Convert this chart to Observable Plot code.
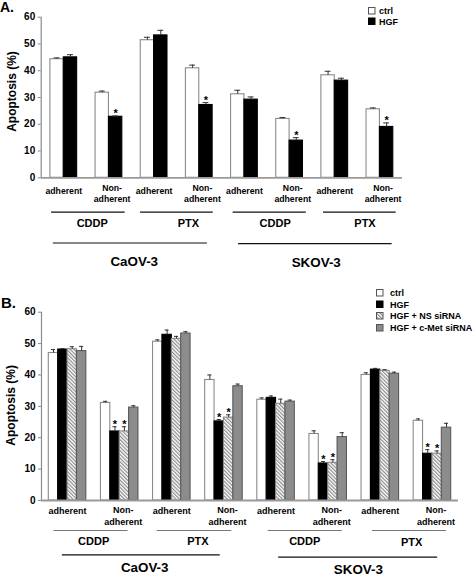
<!DOCTYPE html>
<html><head><meta charset="utf-8">
<script src="https://cdn.jsdelivr.net/npm/d3@7"></script>
<script src="https://cdn.jsdelivr.net/npm/@observablehq/plot@0.6"></script>
<style>
body{margin:0;background:#fff;}
#root{position:relative;width:473px;height:576px;overflow:hidden;font-family:"Liberation Sans",Arial,sans-serif;}
#root svg{position:absolute;left:0;}
</style></head><body>
<svg width="0" height="0" style="position:absolute">
  <defs>
    <pattern id="hatch" patternUnits="userSpaceOnUse" width="2.6" height="2.6" patternTransform="rotate(-45)">
      <rect width="2.6" height="2.6" fill="#fff"></rect>
      <line x1="0.6" y1="0" x2="0.6" y2="2.6" stroke="#8a8a8a" stroke-width="1.2"></line>
    </pattern>
  </defs>
</svg>
<div id="root"></div>
<script>
// ---- data ----
const stateLabels = ["adherent","Non-\nadherent","adherent","Non-\nadherent","adherent","Non-\nadherent","adherent","Non-\nadherent"];
const drugLabels = ["CDDP","PTX","CDDP","PTX"];
const cellLabels = ["CaOV-3","SKOV-3"];
const yTicks = [0,10,20,30,40,50,60];

const seriesA = ["ctrl","HGF"];
const ctrlA    = [44.3, 31.8, 51.4, 40.9, 31.2, 22.0, 38.3, 25.6];
const ctrlAErr = [0.5, 0.6, 1.1, 1.2, 1.5, 0.5, 1.5, 0.5];
const hgfA     = [45.0, 22.8, 53.2, 27.2, 29.2, 13.9, 36.3, 19.0];
const hgfAErr  = [1.0, 0.3, 1.9, 0.9, 1.0, 1.1, 0.9, 1.5];

const seriesB = ["ctrl","HGF","HGF + NS siRNA","HGF + c-Met siRNA"];
const ctrlB    = [47.0, 31.1, 50.6, 38.4, 32.1, 21.2, 40.0, 25.4];
const ctrlBErr = [1.1, 0.5, 0.6, 1.6, 0.6, 1.0, 0.7, 0.6];
const hgfB     = [48.1, 22.0, 52.8, 25.2, 32.7, 11.8, 41.7, 14.9];
const hgfBErr  = [0.3, 1.5, 1.5, 0.6, 0.6, 0.6, 0.4, 1.3];
const nsB      = [48.2, 22.0, 51.5, 26.4, 30.8, 12.0, 41.3, 14.9];
const nsBErr   = [0.8, 1.5, 0.8, 0.9, 1.5, 1.0, 0.4, 0.9];
const cmetB    = [47.6, 29.6, 53.2, 36.4, 31.5, 20.2, 40.4, 23.2];
const cmetBErr = [1.5, 0.6, 0.6, 0.7, 0.5, 1.4, 0.5, 1.4];

// significance (*) marks: which groups and which series
const sigGroups = [false, true, false, true, false, true, false, true];
const sigSeriesA = [false, true];
const sigSeriesB = [false, true, true, false];

// ---- styles ----
const FONT = '"Liberation Sans", Arial, sans-serif';
const fills   = ["#ffffff", "#000000", "url(#hatch)", "#8c8c8c"];
const strokes = ["#8a8a8a", "#000000", "#8a8a8a", "#5a5a5a"];

function panel(cfg) {
  const n = cfg.series.length;
  const w = cfg.barW;
  const off = 0.5 - n * w / 2;
  const rows = [];
  cfg.series.forEach((s, k) => cfg.values[k].forEach((v, g) => rows.push({
    g, k, s, v, e: cfg.errors[k][g],
    sig: sigGroups[g] && cfg.sigSeries[k],
    x1: g + off + k * w, x2: g + off + (k + 1) * w, c: g + off + (k + 0.5) * w
  })));
  const cap = w * 0.22;
  const marks = [];
  cfg.series.forEach((s, k) => {
    marks.push(Plot.rect(rows.filter(d => d.k === k), {
      x1: "x1", x2: "x2", y1: 0, y2: "v",
      fill: fills[k], stroke: strokes[k], strokeWidth: 1.1
    }));
  });
  marks.push(Plot.ruleX(rows, {x: "c", y1: "v", y2: d => d.v + d.e, stroke: "#333", strokeWidth: 1}));
  marks.push(Plot.ruleY(rows, {y: d => d.v + d.e, x1: d => d.c - cap, x2: d => d.c + cap, stroke: "#333", strokeWidth: 1}));
  marks.push(Plot.text(rows.filter(d => d.sig), {
    x: "c", y: d => d.v + d.e, text: () => "*", lineAnchor: "bottom", dy: cfg.starDy,
    fontWeight: "bold", fontSize: 11, fill: "#000"
  }));
  // axes
  marks.push(Plot.ruleX([0], {stroke: "#8a8a8a", strokeWidth: 1.2}));
  marks.push(Plot.ruleY([0], {stroke: "#9a9a9a", strokeWidth: 1.8}));
  marks.push(Plot.axisY(yTicks, {tickSize: 3, tickPadding: 3, stroke: "#8a8a8a", fill: "#000",
    fontWeight: "bold", fontSize: 10, label: null}));
  marks.push(Plot.text(["Apoptosis (%)"], {frameAnchor: "left", textAnchor: "middle", lineAnchor: "middle",
    dx: cfg.ylabDx, dy: cfg.ylabDy, rotate: -90,
    fontWeight: "bold", fontSize: 12, fill: "#000"}));
  // state labels
  const st = stateLabels.map((t, g) => ({t, g}));
  marks.push(Plot.text(st.filter(d => d.g % 2 === 0), {x: d => d.g + 0.5, y: 0, text: "t", dy: cfg.stateDy[0],
    fontWeight: "bold", fontSize: cfg.stateFont, fill: "#000"}));
  marks.push(Plot.text(st.filter(d => d.g % 2 === 1), {x: d => d.g + 0.57, y: 0, text: "t", dy: cfg.stateDy[1],
    fontWeight: "bold", fontSize: cfg.stateFont, fill: "#000", lineHeight: 1.3}));
  // drug brackets
  drugLabels.forEach((t, i) => {
    const [a, b] = cfg.drugLines[i];
    marks.push(Plot.ruleY([0], {x1: a, x2: b, dy: cfg.drugLineDy, stroke: cfg.drugStroke, strokeWidth: 1.2}));
    marks.push(Plot.text([t], {x: cfg.drugText[i], y: 0, dy: cfg.drugDy[i], fontWeight: "bold", fontSize: 11, fill: "#000"}));
  });
  cellLabels.forEach((t, i) => {
    const [a, b] = cfg.cellLines[i];
    marks.push(Plot.ruleY([0], {x1: a, x2: b, dy: cfg.cellLineDy[i], stroke: "#111", strokeWidth: 1.2}));
    marks.push(Plot.text([t], {x: cfg.cellText[i], y: 0, dy: cfg.cellDy[i], fontWeight: "bold", fontSize: 13.4, fill: "#000"}));
  });
  return Plot.plot({
    width: 473, height: cfg.height,
    marginTop: cfg.mt, marginBottom: cfg.mb, marginLeft: cfg.ml, marginRight: cfg.mr,
    x: {domain: [0, 8], axis: null},
    y: {domain: [0, 60], axis: null},
    style: {fontFamily: FONT, overflow: "visible", background: "transparent"},
    marks
  });
}

const root = document.getElementById("root");

const svgA = panel({
  series: seriesA, values: [ctrlA, hgfA], errors: [ctrlAErr, hgfAErr], sigSeries: sigSeriesA,
  barW: 0.296, height: 275, mt: 16.7, mb: 97.7, ml: 40.7, mr: 71,
  starDy: 1, ylabDx: -29, ylabDy: -6,
  stateFont: 8.7, stateDy: [13.5, 15],
  drugLines: [[0.23, 1.86], [2.2, 3.81], [4.25, 5.87], [6.25, 7.86]], drugLineDy: 34.4, drugStroke: "#111",
  drugText: [1.13, 3.26, 5.18, 7.17], drugDy: [46, 46, 46, 46],
  cellLines: [[0.27, 3.68], [4.37, 7.77]], cellLineDy: [65.2, 65.8],
  cellText: [2.06, 6.09], cellDy: [84.4, 84.8]
});
svgA.style.top = "0px";
root.appendChild(svgA);

const svgB = panel({
  series: seriesB, values: [ctrlB, hgfB, nsB, cmetB], errors: [ctrlBErr, hgfBErr, nsBErr, cmetBErr], sigSeries: sigSeriesB,
  barW: 0.18, height: 296, mt: 31.7, mb: 76, ml: 41, mr: 15,
  starDy: 1, ylabDx: -30, ylabDy: -1,
  stateFont: 9, stateDy: [11, 14.5],
  drugLines: [[0.24, 1.66], [2.22, 3.65], [4.35, 5.77], [6.35, 7.77]], drugLineDy: 30, drugStroke: "#777",
  drugText: [1.0, 3.0, 5.05, 7.1], drugDy: [40.5, 40.8, 40.5, 42],
  cellLines: [[0.4, 3.43], [4.55, 7.6]], cellLineDy: [54.3, 56.7],
  cellText: [1.98, 6.08], cellDy: [67.5, 69.3]
});
svgB.style.top = "280px";
root.appendChild(svgB);

// overlay: panel letters and legends
const ov = d3.select(root).append("svg")
  .attr("width", 473).attr("height", 576)
  .style("top", "0px").style("pointer-events", "none")
  .style("font-family", FONT);
ov.append("text").attr("x", 0).attr("y", 11.5).attr("font-size", 14).attr("font-weight", "bold").text("A.");
ov.append("text").attr("x", 1).attr("y", 308).attr("font-size", 15).attr("font-weight", "bold").text("B.");

function legend(series, x, ys, tx) {
  series.forEach((s, k) => {
    ov.append("rect").attr("x", x).attr("y", ys[k] - 3.5).attr("width", 6.5).attr("height", 6.5)
      .attr("fill", fills[k]).attr("stroke", strokes[k] === "#000000" ? "#000" : "#555").attr("stroke-width", 1);
    ov.append("text").attr("x", tx).attr("y", ys[k]).attr("dy", "0.35em")
      .attr("font-size", 9).attr("font-weight", "bold").text(s);
  });
}
legend(seriesA, 368.5, [11, 21.5], 379);
legend(seriesB, 376.5, [293, 304.5, 316, 328], 390);
</script>
</body></html>
